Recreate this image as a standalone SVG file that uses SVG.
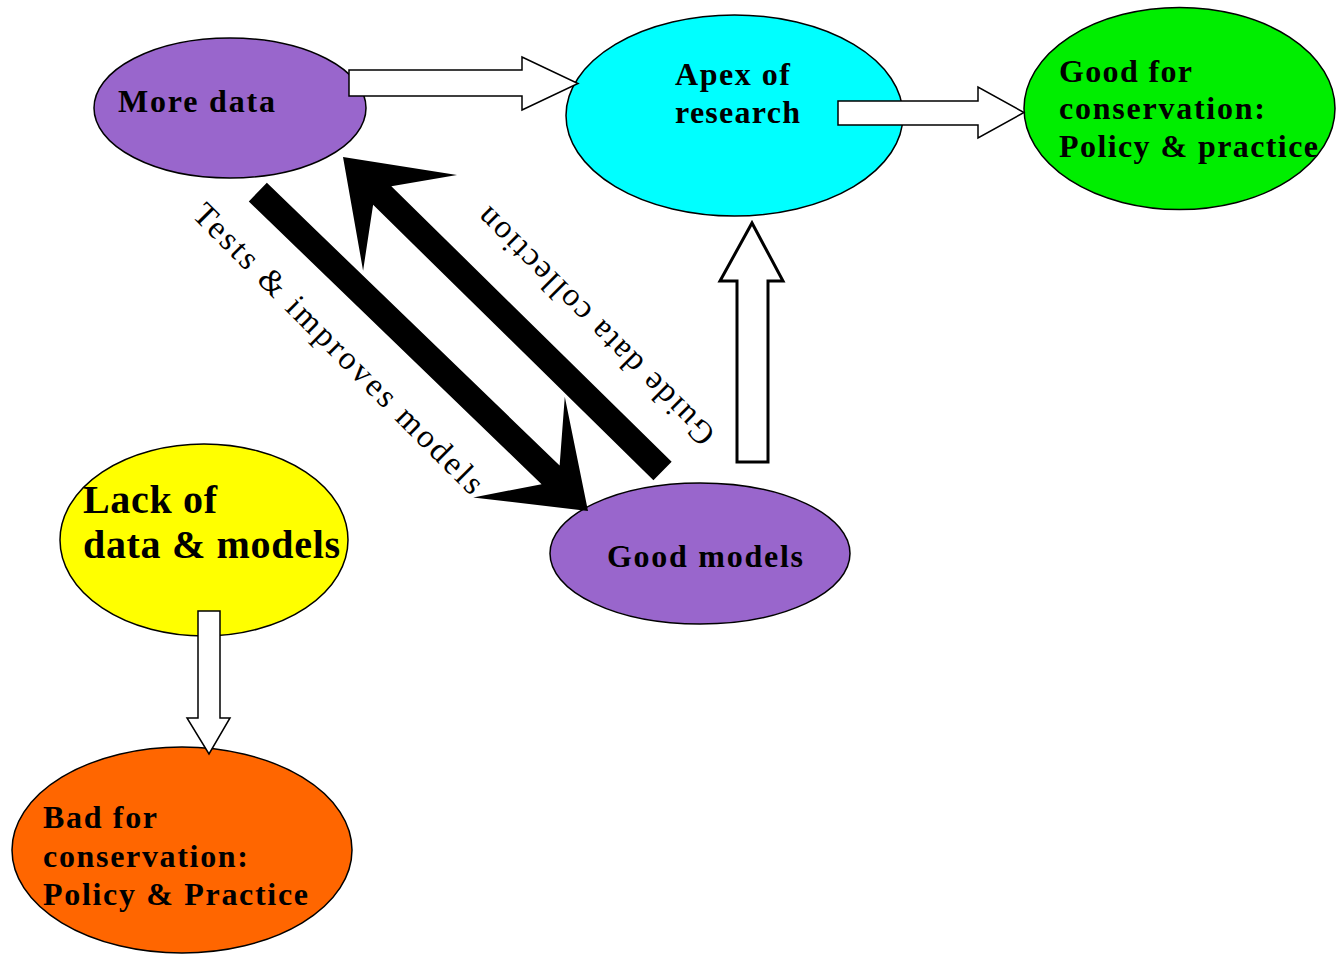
<svg xmlns="http://www.w3.org/2000/svg" width="1336" height="954" viewBox="0 0 1336 954">
<style>
.node{stroke:#000;stroke-width:1.5}
.lbl{font-family:"Liberation Serif","Times New Roman",serif;font-weight:bold;fill:#000}
.hollow{fill:#fff;stroke:#000;stroke-width:1.5;stroke-linejoin:miter}
.thick{fill:#000;stroke:none}
.elbl{font-family:"Liberation Serif","Times New Roman",serif;font-size:33px;fill:#000}
</style>
<rect width="1336" height="954" fill="#fff"/>
<g id="node-more-data">
<ellipse class="node" cx="230" cy="108" rx="136" ry="70" fill="#9966CC"/>
<text class="lbl" x="118" y="112" font-size="32" textLength="157" lengthAdjust="spacing">More data</text>
</g>
<g id="node-apex">
<ellipse class="node" cx="734.5" cy="115.5" rx="168.5" ry="100.5" fill="#00FFFF"/>
<text class="lbl" x="675" y="85" font-size="32" textLength="115" lengthAdjust="spacing">Apex of</text>
<text class="lbl" x="675" y="123" font-size="32" textLength="125" lengthAdjust="spacing">research</text>
</g>
<g id="node-good-conservation">
<ellipse class="node" cx="1179.5" cy="108.5" rx="155.5" ry="101" fill="#00EE00"/>
<text class="lbl" x="1059" y="82" font-size="32" textLength="133" lengthAdjust="spacing">Good for</text>
<text class="lbl" x="1059" y="119" font-size="32" textLength="206" lengthAdjust="spacing">conservation:</text>
<text class="lbl" x="1059" y="157" font-size="32" textLength="259" lengthAdjust="spacing">Policy &amp; practice</text>
</g>
<g id="node-lack">
<ellipse class="node" cx="204" cy="540" rx="144" ry="96" fill="#FFFF00"/>
<text class="lbl" x="83" y="513" font-size="40" textLength="134" lengthAdjust="spacing">Lack of</text>
<text class="lbl" x="83" y="558" font-size="40" textLength="257" lengthAdjust="spacing">data &amp; models</text>
</g>
<g id="node-good-models">
<ellipse class="node" cx="700" cy="553.5" rx="150" ry="70.5" fill="#9966CC"/>
<text class="lbl" x="607" y="567" font-size="32" textLength="196" lengthAdjust="spacing">Good models</text>
</g>
<g id="node-bad-conservation">
<ellipse class="node" cx="182" cy="850" rx="170" ry="103" fill="#FF6600"/>
<text class="lbl" x="43" y="828" font-size="32" textLength="114" lengthAdjust="spacing">Bad for</text>
<text class="lbl" x="43" y="867" font-size="32" textLength="205" lengthAdjust="spacing">conservation:</text>
<text class="lbl" x="43" y="905" font-size="32" textLength="265" lengthAdjust="spacing">Policy &amp; Practice</text>
</g>
<g id="connectors">
<polygon class="hollow" points="349,70 522,70 522,57 578,83.5 522,110 522,96 349,96"/>
<polygon class="hollow" points="838,101 978,101 978,87 1024,112.5 978,138 978,125 838,125"/>
<polygon class="hollow" style="stroke-width:3" points="737,462 737,281 720,281 752,223 783,281 768,281 768,462"/>
<polygon class="hollow" points="198,611 220,611 220,718 230,718 209,754 187,718 198,718"/>
<polygon class="thick" transform="translate(588,511) rotate(44)" points="0,0 -96,-66 -52,-13 -459,-13 -459,13 -52,13 -92,70"/>
<polygon class="thick" transform="translate(343,157) rotate(224.5)" points="0,0 -94,-67 -55,-13 -448,-13 -448,13 -55,13 -94,67"/>
<text class="elbl" transform="translate(331,356) rotate(45)" x="0" y="0" text-anchor="middle" textLength="396" lengthAdjust="spacing">Tests &amp; improves models</text>
<text class="elbl" transform="translate(603,319) rotate(225)" x="0" y="0" text-anchor="middle" textLength="322" lengthAdjust="spacing">Guide data collection</text>
</g>
</svg>
